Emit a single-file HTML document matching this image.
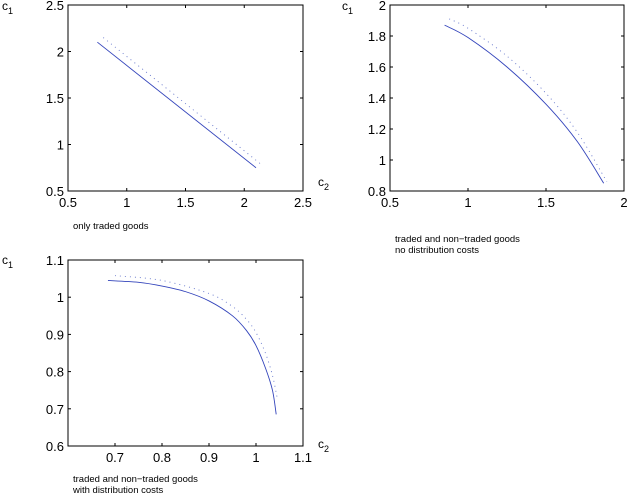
<!DOCTYPE html>
<html><head><meta charset="utf-8"><style>
body{margin:0;background:#fff;width:629px;height:494px;overflow:hidden}
svg text{font-family:"Liberation Sans",Arial,sans-serif;fill:#000}
</style></head><body>
<svg id="s" width="629" height="494" xmlns="http://www.w3.org/2000/svg"></svg>
<script>
const p1SolidX=[0.75,2.1], p1SolidY=[2.1,0.75];
const p1DotX=[0.8,2.15], p1DotY=[2.15,0.78];
const p2SolidX=[0.85,1.0,1.25,1.5,1.7,1.87], p2SolidY=[1.87,1.79,1.6,1.36,1.12,0.85];
const p2DotX=[0.88,1.0,1.25,1.5,1.7,1.89], p2DotY=[1.91,1.85,1.67,1.43,1.18,0.86];
const p3SolidX=[0.685,0.75,0.8,0.85,0.9,0.95,0.98,1.0,1.02,1.035,1.043];
const p3SolidY=[1.045,1.04,1.03,1.015,0.99,0.95,0.91,0.87,0.81,0.75,0.685];
const p3DotX=[0.7,0.8,0.9,0.95,0.98,1.0,1.02,1.035,1.045];
const p3DotY=[1.058,1.045,1.01,0.975,0.94,0.905,0.85,0.79,0.73];
const p1XTicks=[0.5,1,1.5,2,2.5], p1YTicks=[0.5,1,1.5,2,2.5];
const p2XTicks=[0.5,1,1.5,2], p2YTicks=[0.8,1,1.2,1.4,1.6,1.8,2];
const p3XTicks=[0.7,0.8,0.9,1,1.1], p3YTicks=[0.6,0.7,0.8,0.9,1,1.1];
const NS="http://www.w3.org/2000/svg", S=document.getElementById('s');
function mk(t,a,p){const e=document.createElementNS(NS,t);for(const k in a)e.setAttribute(k,a[k]);(p||S).appendChild(e);return e;}
function smooth(P){if(P.length<3)return 'M'+P.map(p=>p.join(',')).join(' L');
 let d='M'+P[0][0]+','+P[0][1];
 for(let i=0;i<P.length-1;i++){const p0=P[Math.max(i-1,0)],p1=P[i],p2=P[i+1],p3=P[Math.min(i+2,P.length-1)];
  d+=' C'+(p1[0]+(p2[0]-p0[0])/6)+','+(p1[1]+(p2[1]-p0[1])/6)+' '+(p2[0]-(p3[0]-p1[0])/6)+','+(p2[1]-(p3[1]-p1[1])/6)+' '+p2[0]+','+p2[1];}
 return d;}
function panel(name,L,R,T,B,x0,x1,y0,y1,xt,yt,sx,sy,dx,dy,cap,capY,c1,c2){
 const g=mk('g',{});
 
 
 const X=v=>L+(v-x0)/(x1-x0)*(R-L), Y=v=>B-(v-y0)/(y1-y0)*(B-T);
 const box=mk('rect',{x:L,y:T,width:R-L,height:B-T,fill:'none',stroke:'#000','stroke-width':1},g);
 
 
 xt.forEach(v=>{mk('line',{x1:X(v),x2:X(v),y1:B,y2:B-3,stroke:'#000'},g);mk('line',{x1:X(v),x2:X(v),y1:T,y2:T+3,stroke:'#000'},g);
  const t=mk('text',{x:X(v),y:B+16,'font-size':13,'text-anchor':'middle'},g);t.textContent=v;
  
  });
 yt.forEach(v=>{mk('line',{x1:L,x2:L+3,y1:Y(v),y2:Y(v),stroke:'#000'},g);mk('line',{x1:R,x2:R-3,y1:Y(v),y2:Y(v),stroke:'#000'},g);
  const t=mk('text',{x:L-4,y:Y(v)+5,'font-size':13,'text-anchor':'end'},g);t.textContent=v;
  
  });
 const pts=(a,b)=>a.map((v,i)=>[X(v),Y(b[i])]);
 const s=mk('path',{d:smooth(pts(sx,sy)),fill:'none',stroke:'#3344bb','stroke-width':0.9},g);
 
 
 const d=mk('path',{d:smooth(pts(dx,dy)),fill:'none',stroke:'#6677cc','stroke-width':0.9,'stroke-dasharray':'1 4'},g);
 
 
 const a=mk('text',{x:c1[0],y:c1[1],'font-size':12},g);a.innerHTML='c<tspan font-size="9" dy="4">1</tspan>';
 
 
 if(c2){const b=mk('text',{x:c2[0],y:c2[1],'font-size':12},g);b.innerHTML='c<tspan font-size="9" dy="4">2</tspan>';
 
 }
 cap.forEach((c,i)=>{const t=mk('text',{x:L+5,y:capY+i*11,'font-size':9.5},g);t.textContent=c;
  
  });
}
panel('panel-traded',68,303,5,191,0.5,2.5,0.5,2.5,p1XTicks,p1YTicks,p1SolidX,p1SolidY,p1DotX,p1DotY,['only traded goods'],229,[2,10],[318,186]);
panel('panel-nontraded-no-dist',390,624,5,191,0.5,2,0.8,2,p2XTicks,p2YTicks,p2SolidX,p2SolidY,p2DotX,p2DotY,['traded and non\u2212traded goods','no distribution costs'],242,[342,10],null);
panel('panel-nontraded-dist',68,303,260,446,0.6,1.1,0.6,1.1,p3XTicks,p3YTicks,p3SolidX,p3SolidY,p3DotX,p3DotY,['traded and non\u2212traded goods','with distribution costs'],482,[2,264],[318,448]);
</script>
</body></html>
